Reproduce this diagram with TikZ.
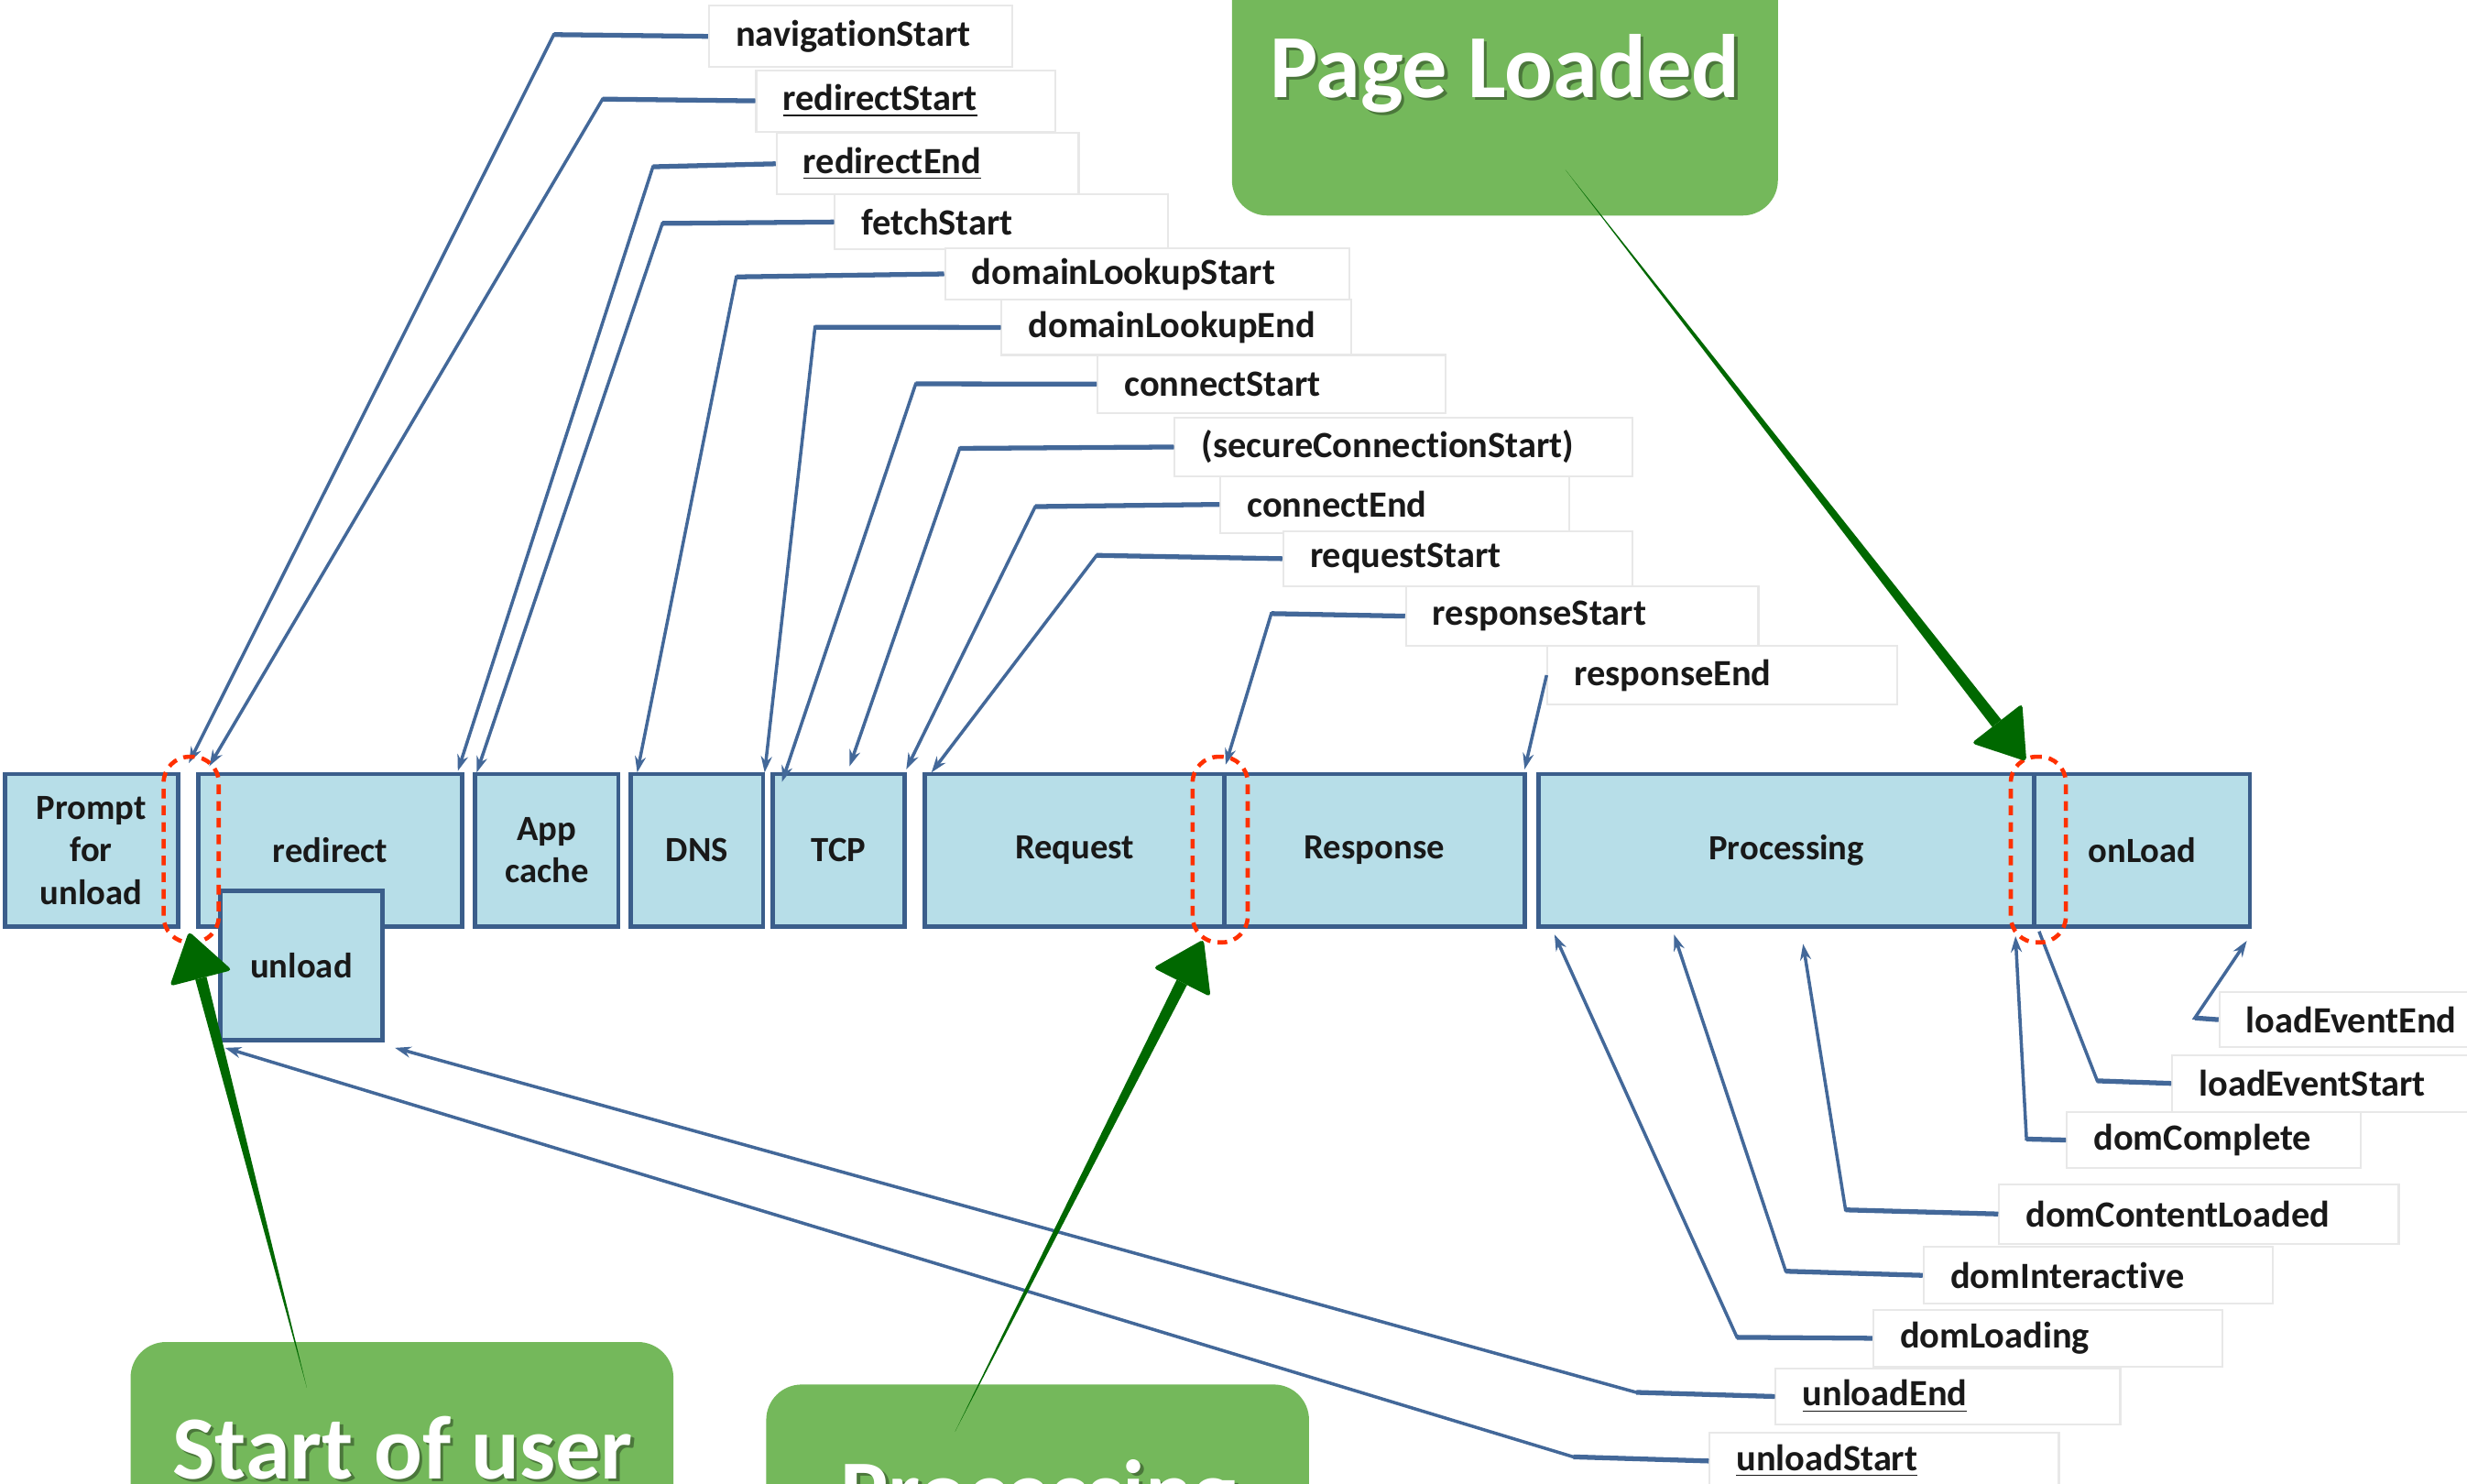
\documentclass[tikz,border=0pt]{standalone}
\usepackage{fontspec}
\setmainfont{Carlito}[Ligatures={NoCommon}]
\usetikzlibrary{arrows.meta,calc}
\newlength\unitlen
\setlength\unitlen{0.17175mm}
\definecolor{boxfill}{RGB}{183,222,232}
\definecolor{boxline}{RGB}{59,94,139}
\definecolor{leadblue}{RGB}{67,104,153}
\definecolor{callgreen}{RGB}{116,184,91}
\definecolor{arrgreen}{RGB}{0,104,0}
\definecolor{reddash}{RGB}{255,48,0}
\definecolor{lblgray}{RGB}{232,232,232}
\definecolor{txt}{RGB}{25,25,25}
\tikzset{
  phase/.style 2 args={draw=boxline, fill=boxfill, line width=1.4pt,
    minimum width=#1*\unitlen, minimum height=#2*\unitlen, inner sep=0pt,
    align=center, font=\fontsize{11}{13.2}\selectfont\bfseries, text=txt},
  lbl/.style 2 args={fill=white, draw=lblgray, line width=0.6pt, anchor=north west,
    text width=#1*\unitlen-34*\unitlen, inner xsep=17*\unitlen, inner ysep=0pt,
    minimum height=#2*\unitlen, align=left,
    font=\fontsize{11.5}{13}\selectfont\bfseries, text=txt},
  leadh/.style={draw=leadblue, line width=1.5pt},
  lead/.style={draw=leadblue, line width=1pt, -{Stealth[length=5pt,width=3.4pt]}},
  leadplain/.style={draw=leadblue, line width=1pt},
  callout/.style 2 args={fill=callgreen, rounded corners=11pt,
    minimum width=#1*\unitlen, minimum height=#2*\unitlen, inner sep=0pt},
  calltext/.style={text=white, font=\fontsize{28}{30}\selectfont\bfseries, anchor=base, inner sep=0pt},
  callshadow/.style={text=black, opacity=0.35, font=\fontsize{28}{30}\selectfont\bfseries, anchor=base, inner sep=0pt},
  redmark/.style={draw=reddash, line width=1.3pt, dash pattern=on 3pt off 2.2pt,
    rounded corners=8pt, minimum width=35*\unitlen, minimum height=118*\unitlen, inner sep=0pt},
}
\newcommand\leader[3]{\draw[lead] (#1.west) -- (#2) -- (#3); \draw[leadh] (#1.west) -- (#2);}
\newcommand\grarrow[2]{%
  \coordinate (ga-base) at ($(#2)!15pt!(#1)$);
  \fill[arrgreen] (#1) -- ($(ga-base)!1.8pt!90:(#1)$) -- ($(ga-base)!1.8pt!-90:(#1)$) -- cycle;
  \fill[arrgreen, rounded corners=1.2pt] (#2) -- ($(ga-base)!10pt!90:(#2)$) -- ($(ga-base)!10pt!-90:(#2)$) -- cycle;
}
\begin{document}
\begin{tikzpicture}[x=0.17175mm, y=-0.17175mm]
\useasboundingbox (0,0) rectangle (1568,943);
\clip (0,0) rectangle (1568,943);
\fill[white] (0,0) rectangle (1568,943);

% green callouts (boxes)
\node[callout={347}{179}] (plbox) at (956.5,47.5) {};
\node[callout={345}{137}] (subox) at (255.5,921.5) {};
\node[callout={345}{130}] (prbox) at (659.5,945) {};

% phase boxes
\node[phase={110}{97}] (prompt) at (58,540.5) {Prompt\\for\\unload};
\node[phase={168}{97}] (redirect) at (210,540.5) {redirect};
\node[phase={103}{95}] (unload) at (191.5,613.5) {unload};
\node[phase={91}{97}] (appcache) at (347.5,540.5) {App\\cache};
\node[phase={84}{97}] (dns) at (443,540.5) {DNS};
\node[phase={84}{97}] (tcp) at (533,540.5) {TCP};
\node[phase={190}{97}] (request) at (683,540.5) {Request};
\node[phase={191}{97}] (response) at (873.5,540.5) {Response};
\node[phase={315}{97}] (processing) at (1135.5,540.5) {Processing};
\node[phase={137}{97}] (onload) at (1361.5,540.5) {onLoad};

% labels
\node[lbl={193}{39}] (l1) at (450,3) {navigationStart};
\node[lbl={190}{39}] (l2) at (480,44) {\underline{redirectStart}};
\node[lbl={192}{39}] (l3) at (493,84) {\underline{redirectEnd}};
\node[lbl={212}{35}] (l4) at (530,123) {fetchStart};
\node[lbl={257}{33}] (l5) at (600,157) {domainLookupStart};
\node[lbl={222}{35}] (l6) at (636,190) {domainLookupEnd};
\node[lbl={221}{37}] (l7) at (697,225) {connectStart};
\node[lbl={291}{37}] (l8) at (746,265) {(secureConnectionStart)};
\node[lbl={222}{36}] (l9) at (775,302) {connectEnd};
\node[lbl={222}{35}] (l10) at (815,337) {requestStart};
\node[lbl={224}{38}] (l11) at (893,372) {responseStart};
\node[lbl={222}{37}] (l12) at (983,410) {responseEnd};
\node[lbl={160}{35}] (l13) at (1410,630) {loadEventEnd};
\node[lbl={190}{36}] (l14) at (1380,670) {loadEventStart};
\node[lbl={187}{36}] (l15) at (1313,706) {domComplete};
\node[lbl={254}{38}] (l16) at (1270,752) {domContentLoaded};
\node[lbl={222}{36}] (l17) at (1222,792) {domInteractive};
\node[lbl={222}{36}] (l18) at (1190,832) {domLoading};
\node[lbl={219}{36}] (l19) at (1128,869) {\underline{unloadEnd}};
\node[lbl={222}{36}] (l20) at (1086,910) {\underline{unloadStart}};

% bends and tips
\coordinate (b1) at (352,22);   \coordinate (t1) at (120,485);
\coordinate (b2) at (383,63);   \coordinate (t2) at (133,487);
\coordinate (b3) at (415,106);  \coordinate (t3) at (291,490);
\coordinate (b4) at (421,142);  \coordinate (t4) at (303,491);
\coordinate (b5) at (468,176);  \coordinate (t5) at (405,491);
\coordinate (b6) at (518,208);  \coordinate (t6) at (486,491);
\coordinate (b7) at (582,244);  \coordinate (t7) at (497,497);
\coordinate (b8) at (610,285);  \coordinate (t8) at (540,487);
\coordinate (b9) at (658,322);  \coordinate (t9) at (576,489);
\coordinate (b10) at (697,353); \coordinate (t10) at (592,491);
\coordinate (b11) at (808,390); \coordinate (t11) at (779,486);
\coordinate (t12) at (969,489);
\coordinate (b13) at (1395,647); \coordinate (t13) at (1428,598);
\coordinate (b14) at (1333,687); \coordinate (t14) at (1296,592);
\coordinate (b15) at (1288,724); \coordinate (t15) at (1281,595);
\coordinate (b16) at (1173,769); \coordinate (t16) at (1146,600);
\coordinate (b17) at (1135,808); \coordinate (t17) at (1064,594);
\coordinate (b18) at (1104,850); \coordinate (t18) at (988,594);
\coordinate (b19) at (1040,885); \coordinate (t19) at (251,666);
\coordinate (b20) at (1000,926); \coordinate (t20) at (143,666);

\leader{l1}{b1}{t1}
\leader{l2}{b2}{t2}
\leader{l3}{b3}{t3}
\leader{l4}{b4}{t4}
\leader{l5}{b5}{t5}
\leader{l6}{b6}{t6}
\leader{l7}{b7}{t7}
\leader{l8}{b8}{t8}
\leader{l9}{b9}{t9}
\leader{l10}{b10}{t10}
\leader{l11}{b11}{t11}
\draw[lead] (l12.west) -- (t12);
\leader{l13}{b13}{t13}
\draw[leadplain] (l14.west) -- (b14) -- (t14); \draw[leadh] (l14.west) -- (b14);
\leader{l15}{b15}{t15}
\leader{l16}{b16}{t16}
\leader{l17}{b17}{t17}
\leader{l18}{b18}{t18}
\leader{l19}{b19}{t19}
\leader{l20}{b20}{t20}

% red dashed markers
\node[redmark] (m1) at (121.5,540) {};
\node[redmark] (m2) at (775.5,540) {};
\node[redmark] (m3) at (1295.5,540) {};

% callout texts (cut by the lower edge, as in the reference)
\node[callshadow] (plsh) at (958.5,64) {Page Loaded};
\node[calltext] (pltext) at (956.5,62) {Page Loaded};
\node[callshadow] (sush) at (258,942) {Start of user};
\node[calltext] (sutext) at (256,940) {Start of user};
\node[callshadow] (prsh) at (662,970) {Processing};
\node[calltext] (prtext) at (660,968) {Processing};

% green arrows
\coordinate (pltail) at (995,108);  \coordinate (plhead) at (1288,484);
\coordinate (sutail) at (195,882);  \coordinate (suhead) at (120,592);
\coordinate (prtail) at (607,910);  \coordinate (prhead) at (765,597);
\grarrow{pltail}{plhead}
\grarrow{sutail}{suhead}
\grarrow{prtail}{prhead}
\end{tikzpicture}
\end{document}
